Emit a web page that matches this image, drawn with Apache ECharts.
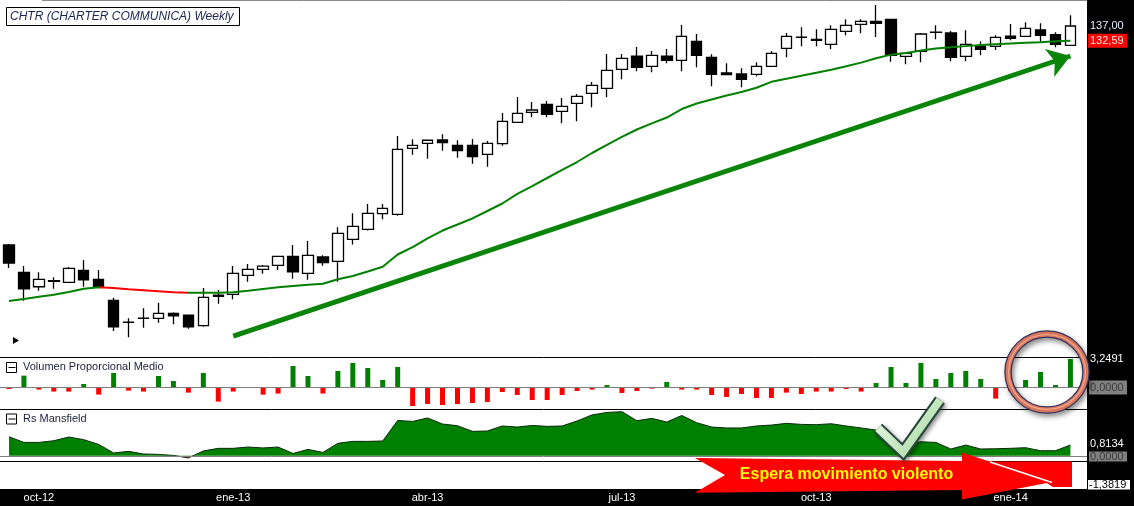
<!DOCTYPE html>
<html><head><meta charset="utf-8">
<script src="https://cdn.jsdelivr.net/npm/echarts@6/dist/echarts.min.js"></script>
<style>html,body{margin:0;padding:0;background:#fff;overflow:hidden}#c{width:1134px;height:506px}</style>
</head><body><div id="c"></div>
<script>
// ---------- DATA ----------
const categories = [
 '2012-09-17','2012-09-24','2012-10-01','2012-10-08','2012-10-15','2012-10-22','2012-10-29','2012-11-05','2012-11-12','2012-11-19',
 '2012-11-26','2012-12-03','2012-12-10','2012-12-17','2012-12-24','2012-12-31','2013-01-07','2013-01-14','2013-01-21','2013-01-28',
 '2013-02-04','2013-02-11','2013-02-18','2013-02-25','2013-03-04','2013-03-11','2013-03-18','2013-03-25','2013-04-01','2013-04-08',
 '2013-04-15','2013-04-22','2013-04-29','2013-05-06','2013-05-13','2013-05-20','2013-05-27','2013-06-03','2013-06-10','2013-06-17',
 '2013-06-24','2013-07-01','2013-07-08','2013-07-15','2013-07-22','2013-07-29','2013-08-05','2013-08-12','2013-08-19','2013-08-26',
 '2013-09-02','2013-09-09','2013-09-16','2013-09-23','2013-09-30','2013-10-07','2013-10-14','2013-10-21','2013-10-28','2013-11-04',
 '2013-11-11','2013-11-18','2013-11-25','2013-12-02','2013-12-09','2013-12-16','2013-12-23','2013-12-30','2014-01-06','2014-01-13',
 '2014-01-20','2014-01-27'];
const tickDates  = ['2012-10-01','2012-12-31','2013-04-01','2013-07-01','2013-09-30','2013-12-30'];
const tickLabels = ['oct-12','ene-13','abr-13','jul-13','oct-13','ene-14'];

// [open, close, low, high]
const ohlc = [
 [84.12,80.81,79.92,84.30],[79.15,76.31,74.30,80.27],[76.65,77.93,75.98,79.15],[77.70,77.58,76.31,78.28],
 [77.41,79.86,77.35,80.09],[79.51,77.86,76.65,81.36],[77.93,76.65,76.60,79.56],[74.37,70.12,69.46,74.80],
 [70.80,70.84,68.48,71.45],[71.43,71.47,69.97,73.06],[71.45,72.25,70.75,73.97],[72.25,71.86,70.50,72.41],
 [71.97,70.12,69.81,72.05],[70.28,74.87,70.12,76.43],[75.25,75.03,73.81,76.09],[75.37,78.98,74.54,80.27],
 [78.62,79.69,77.51,80.63],[79.69,80.27,78.91,80.45],[80.39,82.03,79.56,82.10],[82.03,79.26,78.03,84.12],
 [78.98,82.21,77.86,84.88],[81.90,80.87,80.32,82.21],[81.12,86.34,77.51,87.50],[85.20,87.69,84.21,90.28],
 [87.11,90.28,86.88,92.16],[90.19,91.29,89.08,92.16],[90.07,104.11,89.79,107.23],[104.34,105.04,102.86,106.45],
 [105.51,106.22,101.95,106.30],[106.29,105.65,103.78,107.64],[105.04,103.78,102.18,106.22],[105.04,102.40,100.82,106.52],
 [102.95,105.51,100.15,106.05],[105.42,110.80,104.94,112.87],[110.55,112.79,110.50,116.96],[113.05,113.63,111.79,115.67],
 [115.08,112.54,111.79,115.93],[113.30,114.56,110.31,116.70],[115.34,117.14,110.80,117.75],[117.93,120.05,114.31,120.94],
 [119.25,124.13,116.88,128.72],[124.41,127.49,121.67,128.72],[128.14,124.96,123.86,130.74],[125.24,128.34,123.58,129.59],
 [128.14,126.93,126.07,130.16],[126.93,133.89,123.86,137.30],[132.42,128.34,124.96,134.58],[127.77,123.03,119.78,128.63],
 [123.39,122.92,122.75,126.07],[123.12,121.67,119.52,124.69],[123.03,125.24,122.48,126.36],[125.24,128.92,125.20,129.59],
 [130.37,133.89,127.77,134.89],[133.55,133.65,130.94,136.61],[133.01,132.71,130.94,136.00],[131.53,136.00,130.08,137.21],
 [135.40,137.21,134.19,139.07],[137.52,138.45,134.80,139.07],[138.45,137.83,133.68,143.56],[139.07,128.34,126.53,139.10],
 [128.06,128.92,125.80,129.00],[129.50,134.58,126.36,134.89],[135.05,135.15,133.01,137.21],[134.89,127.77,126.63,135.49],
 [128.06,131.53,126.63,135.70],[130.94,130.08,128.34,132.42],[130.94,133.60,129.87,134.19],[133.98,133.30,132.71,137.61],
 [133.89,136.31,133.77,138.14],[135.79,134.19,132.30,137.83],[134.37,131.53,130.65,135.10],[131.24,137.00,131.20,140.31]];

const movingAverage = [
 74.27,74.58,74.96,75.30,75.76,76.31,76.55,76.43,76.21,76.04,
 75.87,75.71,75.64,75.64,75.63,75.71,75.98,76.26,76.55,76.77,
 76.99,77.17,77.93,78.50,79.30,80.13,82.36,83.74,85.35,86.88,
 88.05,89.24,90.74,92.27,94.28,95.93,97.66,99.42,101.20,103.25,
 105.11,107.02,108.80,110.28,111.74,113.88,115.29,116.32,117.35,118.28,
 119.41,120.99,121.80,122.64,123.48,124.30,125.24,126.28,127.52,128.54,
 129.03,129.76,130.31,130.65,131.00,131.30,131.56,131.80,131.98,132.16,
 132.40,132.59];

const volumenProporcional = [
 -0.20,1.34,-0.26,-0.49,-0.49,0.38,-0.84,1.64,-0.38,-0.49,
 1.30,0.72,-0.61,1.64,-1.64,-0.49,0.00,-0.84,-0.72,2.45,
 1.30,-0.72,1.87,2.79,2.22,0.84,2.33,-2.15,-1.92,-2.03,
 -1.92,-1.80,-1.69,-0.54,-0.88,-1.46,-1.46,-0.88,-0.42,-0.26,
 0.26,-0.65,-0.42,-0.15,0.61,-0.26,-0.26,-0.88,-1.11,-0.77,
 -1.23,-1.23,-0.61,-0.77,-0.49,-0.49,-0.20,-0.49,0.49,2.33,
 0.49,2.79,0.95,1.64,1.87,0.95,-1.30,-0.45,0.84,1.76,
 0.26,3.2491];

const rsMansfield = [
 1.44,1.01,1.01,1.14,1.42,1.22,0.86,0.21,0.33,0.13,
 0.10,0.02,-0.17,0.36,0.56,0.56,0.66,0.59,0.66,0.17,
 0.48,0.25,0.94,1.09,1.09,1.12,2.68,2.61,2.87,2.41,
 2.28,1.85,1.88,2.26,2.18,2.30,2.23,2.26,2.64,3.10,
 3.29,3.35,2.66,2.84,2.56,3.06,2.51,2.18,2.11,2.11,
 2.26,2.33,2.46,2.38,2.36,2.43,2.26,2.11,1.95,1.29,
 0.84,1.06,1.01,0.51,0.81,0.51,0.53,0.56,0.61,0.38,
 0.38,0.8134];

const rsPanelMinLabel = -1.3819;
const trendFrom = ['2012-12-31', 68.66];
const trendTo   = ['2014-01-27', 128.15];
const maRedFrom = 6, maRedTo = 12;

// ---------- CHART ----------
const FONT = "'Liberation Sans', Arial, sans-serif";
const chart = echarts.init(document.getElementById('c'));
const GL = 1.5, GW = 1076.4;
const RS_MIN = -0.403, RS_MAX = 3.551;
const RS_TOP = 409, RS_H = 52;
const xBase = (g) => ({
  type:'category', gridIndex:g, data:categories, boundaryGap:true,
  axisLine:{show:false}, axisTick:{show:false}, axisLabel:{show:false}, splitLine:{show:false}
});
const xLast = xBase(3);
xLast.z = 100;
xLast.axisLabel = {
  show:true, color:'#ffffff', fontSize:11, fontFamily:FONT, margin:3,
  interval:(i, v) => tickDates.indexOf(v) >= 0,
  formatter:(v) => tickLabels[tickDates.indexOf(v)] || ''
};
const zf = RS_MAX / (RS_MAX - RS_MIN);
const rsFill = {type:'linear', global:true, x:0, y:RS_TOP, x2:0, y2:RS_TOP + RS_H,
  colorStops:[{offset:0, color:'#008000'},{offset:zf, color:'#008000'},{offset:zf, color:'#ff0000'},{offset:1, color:'#ff0000'}]};

chart.setOption({
  animation:false,
  backgroundColor:'#ffffff',
  grid:[
    {left:GL, width:GW, top:1, height:356},
    {left:GL, width:GW, top:358, height:51},
    {left:GL, width:GW, top:RS_TOP, height:RS_H},
    {left:GL, width:GW, top:461, height:28}
  ],
  xAxis:[xBase(0), xBase(1), xBase(2), xLast],
  yAxis:[
    {gridIndex:0, type:'log', logBase:10, min:65.55, max:144.85, show:false},
    {gridIndex:1, type:'value', min:-2.491, max:3.364, show:false},
    {gridIndex:2, type:'value', min:RS_MIN, max:RS_MAX, show:false},
    {gridIndex:3, type:'value', min:0, max:1, show:false}
  ],
  visualMap:[
    {type:'piecewise', show:false, seriesIndex:1, dimension:0,
     pieces:[{lt:maRedFrom, color:'#008000'},{gte:maRedFrom, lte:maRedTo, color:'#ff0000'},{gt:maRedTo, color:'#008000'}]}
  ],
  series:[
    {type:'candlestick', xAxisIndex:0, yAxisIndex:0, data:ohlc, barWidth:11, z:2,
     emphasis:{disabled:true}, silent:true,
     itemStyle:{color:'#ffffff', color0:'#000000', borderColor:'#000000', borderColor0:'#000000', borderWidth:1.3},
     markLine:{silent:true, symbol:['none','arrow'], symbolSize:22, animation:false,
       label:{show:false}, emphasis:{disabled:true},
       lineStyle:{color:'#0a850a', width:5, type:'solid', opacity:1},
       data:[[{coord:trendFrom},{coord:trendTo}]]}
    },
    {type:'line', xAxisIndex:0, yAxisIndex:0, data:movingAverage, showSymbol:false, z:3, silent:true,
     lineStyle:{width:2}},
    {type:'bar', xAxisIndex:1, yAxisIndex:1, data:volumenProporcional, barWidth:5, silent:true,
     itemStyle:{color:(p) => p.value >= 0 ? '#008000' : '#ff0000'}},
    {type:'line', xAxisIndex:2, yAxisIndex:2, data:rsMansfield, showSymbol:false, silent:true,
     lineStyle:{color:'#0c2a0c', width:1}, areaStyle:{opacity:1, color:rsFill, origin:0}}
  ]
});

// ---------- OVERLAYS (positions derived from the chart's scales) ----------
const yPx = (axis, v) => chart.convertToPixel({yAxisIndex:axis}, v);
const fmt = (v, d) => v.toFixed(d).replace('.', ',');
const lastClose = ohlc[ohlc.length-1][1];
const lastMA = movingAverage[movingAverage.length-1];
const lastVol = volumenProporcional[volumenProporcional.length-1];
const lastRs = rsMansfield[rsMansfield.length-1];
const yClose = yPx(0, lastClose), yMA = yPx(0, lastMA);
const yVolMax = yPx(1, lastVol), yVol0 = Math.round(yPx(1, 0)) + 0.5;
const yRs = yPx(2, lastRs), yRs0 = Math.round(yPx(2, 0)) + 0.5;

const RX = 1087;
const hline = (y, color, x1, x2) => ({type:'line', silent:true, z:40,
  shape:{x1:(x1 == null ? 0 : x1), y1:y, x2:(x2 == null ? RX : x2), y2:y}, style:{stroke:color, lineWidth:1}});
const txt = (x, y, s, o) => ({type:'text', silent:true, z:60, x:x, y:y,
  style:Object.assign({text:s, font:'11px ' + FONT, fill:'#000', textVerticalAlign:'middle', textAlign:'left'}, o || {})});
const box = (x, y, w, h, fill, stroke) => ({type:'rect', silent:true, z:55,
  shape:{x:x, y:y, width:w, height:h}, style:{fill:fill, stroke:stroke || null, lineWidth:1}});

const g = [];
// frame
g.push({type:'rect', silent:true, z:30, shape:{x:RX, y:0, width:1134-RX, height:490}, style:{fill:'#000'}});
g.push({type:'rect', silent:true, z:-1, shape:{x:0, y:490, width:1134, height:16}, style:{fill:'#000'}});
g.push(hline(0.5, '#8a8a8a', 42, RX));
g.push(hline(357.5, '#000'));
g.push(hline(409.5, '#000'));
g.push(hline(461.5, '#000'));
g.push(hline(489.5, '#000', 0, 1088));
g.push(hline(yVol0, '#808080'));
g.push(hline(yRs0, '#808080'));

// title
g.push(box(6.5, 7.5, 233, 18, '#ffffff', '#000000'));
g.push(txt(10, 16.5, 'CHTR (CHARTER COMMUNICA) Weekly', {font:'italic 12px ' + FONT, fill:'#1b2350'}));
// small marker
g.push({type:'polygon', silent:true, z:40, shape:{points:[[13,337],[13,344],[19,340.5]]}, style:{fill:'#000'}});

// panel headers
[[362, 'Volumen Proporcional Medio'], [413.5, 'Rs Mansfield']].forEach(([y, s]) => {
  g.push(box(6.5, y + 0.5, 10, 10, '#ffffff', '#000000'));
  g.push({type:'line', silent:true, z:56, shape:{x1:8.5, y1:y + 5.5, x2:15.5, y2:y + 5.5}, style:{stroke:'#000', lineWidth:1}});
  g.push(txt(23, y + 5, s, {fill:'#1a1f3c'}));
});

// right price labels
g.push(txt(1090, yClose, fmt(lastClose, 2), {fill:'#e6ecff'}));
g.push(box(1088, yMA - 7, 39, 14, '#ff0000'));
g.push(txt(1090, yMA, fmt(lastMA, 2), {fill:'#ffe0e0'}));
// volume labels
g.push(txt(1090, yVolMax, fmt(lastVol, 4), {fill:'#ffffff'}));
g.push(box(1089, yVol0 - 7, 38, 14, '#808080'));
g.push(txt(1090, yVol0, fmt(0, 4), {fill:'#3a3a3a'}));
// Rs labels
g.push(txt(1090, yRs - 1, fmt(lastRs, 4), {fill:'#ffffff'}));
g.push(box(1089, yRs0 - 5, 38, 10, '#808080'));
g.push(txt(1090, yRs0, fmt(0, 4), {fill:'#3a3a3a'}));
g.push(box(1088, 480, 42, 9.5, '#ffffff'));
g.push(txt(1089, 485, fmt(rsPanelMinLabel, 4), {fill:'#000000'}));

// red arrow annotation
g.push({type:'polygon', silent:true, z:70,
  shape:{points:[[958,461.5],[1072,461.5],[1072,487],[1053,487],[1040,479],[958,479]]}, style:{fill:'#ff0000'}});
g.push({type:'polygon', silent:true, z:71,
  shape:{points:[[695,458],[962,461],[962,452.5],[1052,482],[962,499.5],[962,490],[695,492.7],[725,475]]},
  style:{fill:'#ff0000'}});
g.push({type:'line', silent:true, z:72, shape:{x1:990, y1:462, x2:1052, y2:482.5}, style:{stroke:'#ffffff', lineWidth:1.5}});
g.push({type:'text', silent:true, z:73, x:846.5, y:474.5,
  style:{text:'Espera movimiento violento', font:'bold 16px ' + FONT, fill:'#ffff00', textAlign:'center', textVerticalAlign:'middle'}});

// check mark
const chk = [[878,428],[903,452],[940,400]];
g.push({type:'polyline', silent:true, z:80, shape:{points:chk},
  style:{stroke:'#27453a', lineWidth:12, lineJoin:'miter', lineCap:'butt', fill:'none',
         shadowBlur:4, shadowColor:'rgba(0,0,0,0.45)', shadowOffsetX:2, shadowOffsetY:2}});
g.push({type:'polyline', silent:true, z:81, shape:{points:chk},
  style:{stroke:{type:'linear', x:0, y:0, x2:1, y2:1, colorStops:[{offset:0, color:'#f4fff0'},{offset:1, color:'#9ed49a'}]},
         lineWidth:8, lineJoin:'miter', lineCap:'butt', fill:'none'}});

// circle
g.push({type:'ellipse', silent:true, z:85, shape:{cx:1047, cy:372, rx:39, ry:38},
  style:{fill:'none', stroke:'#33325e', lineWidth:7.5, shadowBlur:5, shadowColor:'rgba(0,0,0,0.45)', shadowOffsetX:2, shadowOffsetY:3}});
g.push({type:'ellipse', silent:true, z:86, shape:{cx:1047, cy:372, rx:39, ry:38},
  style:{fill:'none', stroke:'#d9775c', lineWidth:5}});
g.push({type:'ellipse', silent:true, z:87, shape:{cx:1047, cy:372, rx:38.5, ry:37.5},
  style:{fill:'none', stroke:'#f0a88f', lineWidth:1.2}});

chart.setOption({graphic:g});
</script>
</body></html>
